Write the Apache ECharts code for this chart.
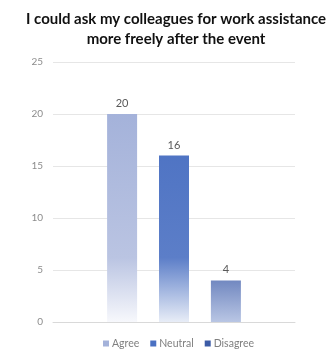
<!DOCTYPE html>
<html>
<head>
<meta charset="utf-8">
<script src="https://cdn.jsdelivr.net/npm/echarts@6/dist/echarts.min.js"></script>
<style>
  html, body { margin: 0; padding: 0; background: #ffffff; }
  #chart { width: 333px; height: 349px; }
</style>
</head>
<body>
<div id="chart"></div>
<script>
// Survey responses for a single statement
const titleText = 'I could ask my colleagues for work assistance\nmore freely after the event';
const categories = [''];
const responses = ['Agree', 'Neutral', 'Disagree'];
const counts = [20, 16, 4];
const yTicks = { min: 0, max: 25, interval: 5 };

// Colour stops for each bar: top, start of fade, baseline
const fills = [
  ['#a4b2da', '#bac4e2', '#f7f8fc'],
  ['#4a70c2', '#5c7ec8', '#e8edf7'],
  ['#3c5ba6', '#4a66ad', '#b9c6e4']
];
const legendColors = ['#b3bde0', '#4a70c2', '#4a5f9f'];

// Fade measured in chart pixels so every bar lightens towards the baseline
function fade(c) {
  return {
    type: 'linear', x: 0, y: 0, x2: 0, y2: 322, global: true,
    colorStops: [
      { offset: 0, color: c[0] },
      { offset: 0.35, color: c[0] },
      { offset: 0.8, color: c[1] },
      { offset: 1, color: c[2] }
    ]
  };
}

const series = responses.map((name, i) => ({
  name: name,
  type: 'bar',
  data: [counts[i]],
  barWidth: 30,
  barGap: '73%',
  itemStyle: { color: fade(fills[i]) },
  label: {
    show: true,
    position: 'top',
    distance: 5,
    color: '#595959',
    fontSize: 11,
    fontFamily: 'Lato'
  }
}));

const chart = echarts.init(document.getElementById('chart'), null, { renderer: 'canvas' });
chart.setOption({
  animation: false,
  backgroundColor: '#ffffff',
  color: legendColors,
  title: {
    text: titleText,
    left: 171,
    top: 4,
    textAlign: 'center',
    textStyle: {
      fontFamily: 'Lato',
      fontWeight: 'bold',
      fontSize: 15,
      lineHeight: 20,
      color: '#111111'
    }
  },
  grid: { left: 53, right: 38, top: 62, bottom: 27 },
  xAxis: {
    type: 'category',
    data: categories,
    axisLine: { lineStyle: { color: '#d9d9d9' } },
    axisTick: { show: false },
    axisLabel: { show: false }
  },
  yAxis: {
    type: 'value',
    min: yTicks.min,
    max: yTicks.max,
    interval: yTicks.interval,
    axisLine: { show: false },
    axisTick: { show: false },
    axisLabel: { color: '#8c8c8c', fontSize: 10, fontFamily: 'Lato', margin: 10 },
    splitLine: { lineStyle: { color: '#e6e6e6' } }
  },
  legend: {
    data: responses,
    left: 98,
    top: 333,
    itemWidth: 6,
    itemHeight: 6,
    itemGap: 11,
    icon: 'rect',
    textStyle: { color: '#7f7f7f', fontSize: 10.5, fontFamily: 'Lato', padding: [0, 0, 0, -2] }
  },
  series: series
});
</script>
</body>
</html>
